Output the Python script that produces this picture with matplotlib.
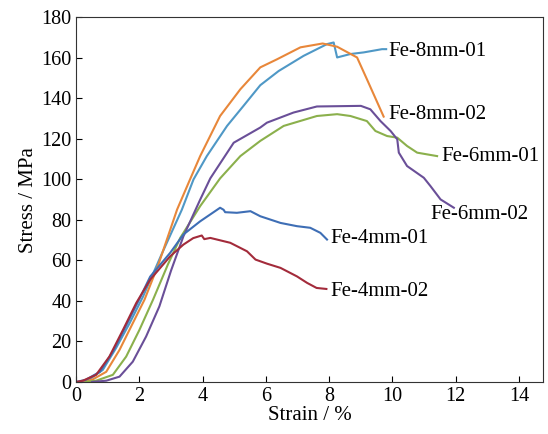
import matplotlib
matplotlib.use('Agg')
import matplotlib.pyplot as plt

plt.rcParams['font.family'] = ['Liberation Serif', 'DejaVu Serif']

# strain (%) / stress (MPa)
fe4_02_x = [0.0, 0.21, 0.63, 1.05, 1.48, 1.9, 2.34, 2.97, 3.39, 3.7, 3.97, 4.05, 4.24, 4.87, 5.4, 5.67, 6.03, 6.46, 6.98, 7.3, 7.6, 7.91]
fe4_02_y = [0, 0.6, 3.5, 12.5, 25.7, 39, 50.5, 62, 67.8, 71, 72.3, 70.5, 71.1, 68.7, 64.5, 60.4, 58.4, 56.3, 52.1, 48.9, 46.4, 45.9]

fe4_01_x = [0.0, 0.3, 0.75, 1.16, 1.6, 2.0, 2.34, 2.97, 3.39, 3.92, 4.55, 4.66, 4.71, 5.08, 5.51, 5.82, 6.46, 6.98, 7.4, 7.72, 7.93]
fe4_01_y = [0, 1, 5, 15, 28.5, 41, 52, 63.7, 72.8, 79.3, 86, 85, 83.8, 83.5, 84.3, 81.8, 78.5, 76.9, 76.1, 73.6, 70.3]

fe8_01_x = [0.1, 0.42, 0.84, 1.26, 1.69, 2.11, 2.7, 3.34, 3.71, 4.13, 4.77, 5.29, 5.82, 6.4, 7.19, 7.93, 8.14, 8.25, 8.67, 9.09, 9.67, 9.8]
fe8_01_y = [0, 1.3, 5.9, 16.7, 29, 42, 63, 85, 100, 111.5, 126.4, 136.3, 146.5, 153.5, 161, 166.8, 167.6, 160.2, 161.9, 162.7, 164.3, 164.3]

fe8_02_x = [0.2, 0.53, 0.95, 1.37, 1.79, 2.16, 2.6, 3.19, 3.6, 3.92, 4.55, 5.19, 5.82, 6.35, 7.09, 7.79, 8.25, 8.88, 9.19, 9.72]
fe8_02_y = [0, 1.3, 5, 15.8, 29, 40.6, 58, 85.1, 100, 111.5, 131.3, 144.5, 155.3, 159.3, 165.2, 167.1, 165.5, 160.2, 149.5, 131.0]

fe6_01_x = [0.3, 0.63, 1.16, 1.58, 2.0, 2.43, 2.9, 3.29, 3.92, 4.55, 5.19, 5.82, 6.56, 7.61, 8.25, 8.67, 9.19, 9.46, 9.83, 10.15, 10.46, 10.78, 11.41]
fe6_01_y = [0, 0.6, 3.5, 12.5, 25.7, 40.6, 58, 71.1, 86.8, 100.5, 111.5, 119, 126.4, 131.3, 132.2, 131.3, 128.8, 123.9, 121.4, 120.6, 116.5, 113.2, 111.5]

fe6_02_x = [0.5, 0.95, 1.37, 1.79, 2.21, 2.63, 3.0, 3.39, 3.92, 4.24, 4.98, 5.82, 6.03, 6.87, 7.61, 9.0, 9.3, 9.62, 9.94, 10.15, 10.2, 10.46, 10.99, 11.2, 11.52, 11.94]
fe6_02_y = [0, 0.6, 2.6, 10, 22.4, 37.3, 55, 71.9, 90, 100.5, 118.1, 125.6, 128, 133, 136, 136.3, 134.6, 128.8, 123.9, 119.8, 113.2, 106.6, 100.8, 96.7, 90.1, 86]

series = [
    ('Fe-8mm-01', fe8_01_x, fe8_01_y, '#4F98C6', (9.86, 162.9)),
    ('Fe-8mm-02', fe8_02_x, fe8_02_y, '#E8873A', (9.86, 132.2)),
    ('Fe-6mm-01', fe6_01_x, fe6_01_y, '#8BB04C', (11.54, 111.4)),
    ('Fe-6mm-02', fe6_02_x, fe6_02_y, '#6A4F98', (11.19, 82.7)),
    ('Fe-4mm-01', fe4_01_x, fe4_01_y, '#3E6EB5', (8.03, 70.8)),
    ('Fe-4mm-02', fe4_02_x, fe4_02_y, '#A32B3B', (8.03, 44.5)),
]

fig = plt.figure(figsize=(5.48, 4.34), dpi=100)
ax = fig.add_axes([0.139, 0.12, 0.852, 0.84])

for name, xs, ys, c, (lx, ly) in series:
    ax.plot(xs, ys, color=c, linewidth=1.5)
    ax.text(lx, ly, name, fontsize=15, ha='left', va='center')

ax.set_xlim(0, 14.76)
ax.set_ylim(0, 180)
ax.set_xticks(range(0, 15, 2))
ax.set_yticks(range(0, 181, 20))
ax.tick_params(direction='in', labelsize=14.5, top=False, right=False, length=4)
ax.set_xlabel('Strain / %', fontsize=15, labelpad=0)
ax.set_ylabel('Stress / MPa', fontsize=15, labelpad=2)
for s in ax.spines.values():
    s.set_color('#333333')

fig.savefig('out.png', dpi=100)
